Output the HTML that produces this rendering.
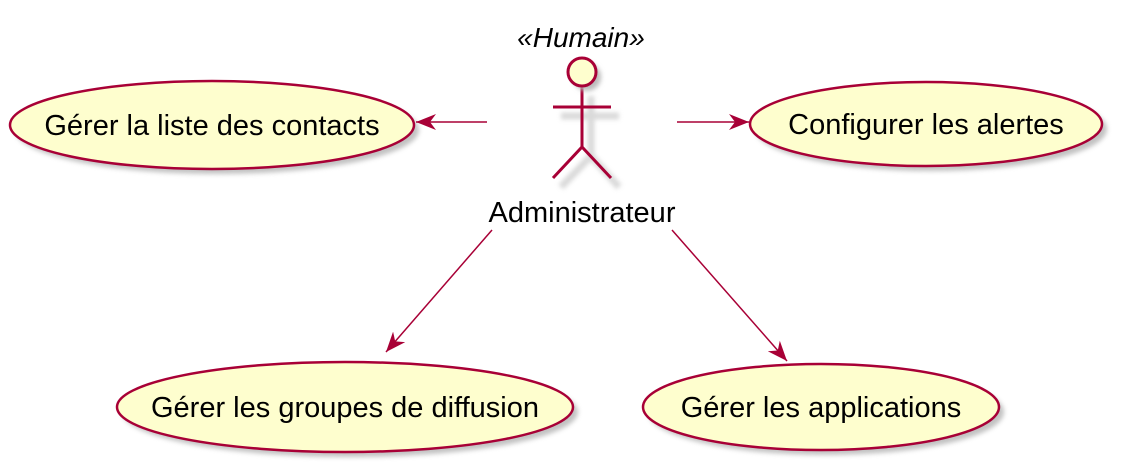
<!DOCTYPE html>
<html><head><meta charset="utf-8"><style>body{margin:0;background:#fff}svg{display:block}</style></head><body>
<svg width="1121" height="475" viewBox="0 0 1121 475" xmlns="http://www.w3.org/2000/svg" font-family="Liberation Sans, sans-serif">
<defs><filter id="sh" x="-20%" y="-20%" width="150%" height="150%"><feGaussianBlur stdDeviation="2.5"/></filter>
<filter id="sh2" x="-30%" y="-30%" width="160%" height="160%"><feGaussianBlur stdDeviation="2"/></filter>
<marker id="ar" markerWidth="22" markerHeight="18" refX="20" refY="8" orient="auto" markerUnits="userSpaceOnUse"><path d="M0,0 L20,8 L0,16 L6,8 Z" fill="#A80036"/></marker></defs>
<g fill="#999" opacity="0.6" filter="url(#sh)">
<ellipse cx="217" cy="130" rx="202" ry="44"/>
<ellipse cx="931" cy="129" rx="176" ry="42"/>
<ellipse cx="350" cy="412" rx="228" ry="45"/>
<ellipse cx="826" cy="412" rx="178" ry="43"/>
</g>
<g stroke="#A80036" stroke-width="2.5" fill="#FEFECE">
<ellipse cx="212" cy="125" rx="202" ry="44"/>
<ellipse cx="926" cy="124" rx="176" ry="42"/>
<ellipse cx="345" cy="407" rx="228" ry="45"/>
<ellipse cx="821" cy="407" rx="178" ry="43"/>
</g>
<g font-size="29" fill="#000" text-anchor="middle">
<text x="212" y="135">Gérer la liste des contacts</text>
<text x="926" y="134">Configurer les alertes</text>
<text x="345" y="417">Gérer les groupes de diffusion</text>
<text x="821" y="417">Gérer les applications</text>
<text x="582" y="222">Administrateur</text>
<text x="581" y="47" font-style="italic" font-size="28">«Humain»</text>
</g>
<g stroke="#bbb" stroke-width="7" fill="none" opacity="0.55" filter="url(#sh2)">
<line x1="561" y1="116" x2="619" y2="116"/><line x1="591" y1="96" x2="591" y2="156"/>
<polyline points="561,187 591,156 619,187"/>
</g>
<g stroke="#A80036" stroke-width="3" fill="none">
<line x1="553" y1="107" x2="611" y2="107"/><line x1="582" y1="87" x2="582" y2="147"/>
<polyline points="553,178 582,147 611,178"/>
</g>
<circle cx="587" cy="77" r="14" fill="#bbb" filter="url(#sh)"/>
<circle cx="582" cy="72" r="14" fill="#FEFECE" stroke="#A80036" stroke-width="3"/>
<g stroke="#A80036" stroke-width="1.5" fill="none" marker-end="url(#ar)">
<line x1="487" y1="122" x2="416" y2="122"/>
<line x1="677" y1="122" x2="749" y2="122"/>
<line x1="492" y1="230" x2="386" y2="352"/>
<line x1="672" y1="230" x2="787" y2="361"/>
</g>
</svg>
</body></html>
